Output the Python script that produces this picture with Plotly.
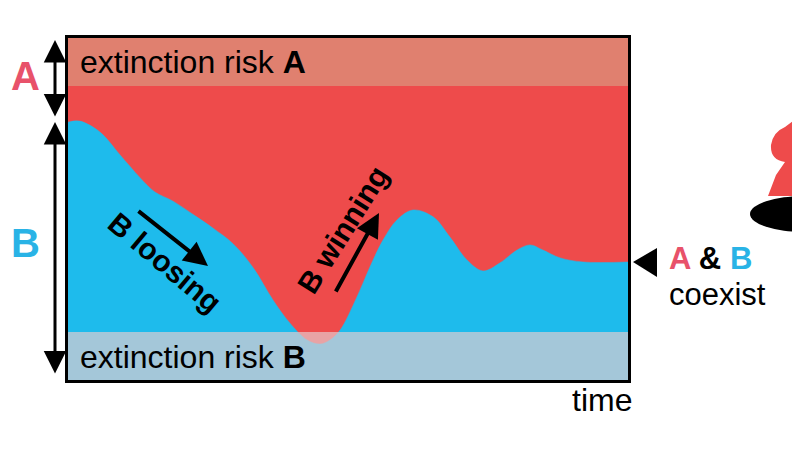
import plotly.graph_objects as go

# B's share over time (0 = extinction of B, 100 = extinction of A)
time = [0, 2.1, 5.7, 9.3, 12.9, 15.5, 18.75, 22.7, 25.9, 29.5, 33.0, 36.6, 39.6, 42.7,
        45.0, 46.8, 48.6, 51.6, 53.9, 56.25, 58.75, 61.6, 65.2, 68.2, 71.25, 74.1,
        77.1, 80.2, 82.5, 84.8, 87.9, 92.0, 100]
share_b = [75.4, 75.7, 72.5, 65.8, 59.1, 55.0, 52.3, 48.0, 44.4, 39.8, 33.0, 23.4, 16.7, 11.7,
           10.5, 11.7, 14.6, 24.3, 33.0, 40.9, 46.8, 49.7, 47.7, 41.8, 35.1, 31.9,
           34.2, 38.0, 39.5, 38.0, 35.7, 34.5, 34.5]

risk_a_level = 86
risk_b_level = 14

RED = "#EE4B4B"
BLUE = "#1EBBEC"
PINK = "#E8526A"
LBLUE = "#29B3E6"
FONT = "Liberation Sans, Arial, sans-serif"


# pixel -> paper helpers for the decorations around the frame
def px(x):
    return (x - 68) / 560


def py(y):
    return (380 - y) / 342


fig = go.Figure()
fig.add_trace(go.Scatter(x=time, y=share_b, mode="lines", fill="tozeroy",
                         fillcolor=BLUE, line=dict(color=BLUE, width=0.5, shape="spline"),
                         hoverinfo="skip", showlegend=False))

shapes = [
    dict(type="rect", xref="x", yref="y", x0=0, x1=100, y0=risk_a_level, y1=100,
         fillcolor="#E0806F", line_width=0, layer="above"),
    dict(type="rect", xref="x", yref="y", x0=0, x1=100, y0=0, y1=risk_b_level,
         fillcolor="rgba(229,205,208,0.68)", line_width=0, layer="above"),
    # pointer triangle
    dict(type="path", xref="paper", yref="paper",
         path=f"M {px(633)} {py(262)} L {px(657)} {py(248)} L {px(657)} {py(277)} Z",
         fillcolor="black", line_width=0),
    # partial hat at the right edge
    dict(type="path", xref="paper", yref="paper",
         path=(f"M {px(768)} {py(196)} L {px(776)} {py(175)} L {px(785)} {py(162)} "
               f"Q {px(770)} {py(160)} {px(771)} {py(145)} Q {px(773)} {py(132)} {px(785)} {py(127)} "
               f"L {px(802)} {py(114)} L {px(802)} {py(196)} Z"),
         fillcolor=RED, line_width=0),
    dict(type="circle", xref="paper", yref="paper",
         x0=px(750), x1=px(860), y0=py(232), y1=py(196),
         fillcolor="black", line_width=0),
]

ann = []


def text(x, y, s, size=32, color="black", xanchor="left", angle=0):
    ann.append(dict(x=px(x), y=py(y), xref="paper", yref="paper", text=s, showarrow=False,
                    xanchor=xanchor, yanchor="middle", textangle=angle,
                    font=dict(family=FONT, size=size, color=color)))


def arrow(x0, y0, x1, y1, width=4, both=False, size=1.1):
    ann.append(dict(x=px(x1), y=py(y1), xref="paper", yref="paper",
                    ax=x0 - x1, ay=y0 - y1, text="",
                    showarrow=True, arrowhead=2, arrowsize=size, arrowwidth=width,
                    arrowcolor="black", arrowside="end+start" if both else "end",
                    startarrowhead=2, startarrowsize=size))


text(78, 62, "extinction risk <b>A</b>")
text(78, 357, "extinction risk <b>B</b>")
text(602, 400, "time", xanchor="center")
text(25, 76, "<b>A</b>", size=40, color=PINK, xanchor="center")
text(25, 243, "<b>B</b>", size=40, color=LBLUE, xanchor="center")
text(667, 259, f"<b><span style='color:{PINK}'>A</span> &amp; "
               f"<span style='color:{LBLUE}'>B</span></b>", size=31)
text(667, 294, "coexist", size=31)
text(165, 262, "<b>B loosing</b>", size=30, xanchor="center", angle=40)
text(342, 230, "<b>B winning</b>", size=30, xanchor="center", angle=-58)

arrow(137, 210, 208, 266, size=1.2)
arrow(335, 293, 379, 213, size=1.2)
arrow(55, 118, 55, 40, width=3, both=True, size=1.5)
arrow(55, 375, 55, 122, width=3, both=True, size=1.5)

# the page body adds an 8px offset, so the margins are shifted to compensate
fig.update_layout(
    width=800, height=450,
    margin=dict(l=60, r=180, t=30, b=78),
    plot_bgcolor=RED, paper_bgcolor="white",
    shapes=shapes, annotations=ann,
    xaxis=dict(range=[0, 100], showgrid=False, zeroline=False, showticklabels=False,
               ticks="", showline=True, mirror=True, linecolor="black", linewidth=2.5),
    yaxis=dict(range=[0, 100], showgrid=False, zeroline=False, showticklabels=False,
               ticks="", showline=True, mirror=True, linecolor="black", linewidth=2.5),
)

fig.write_html("out.html")
